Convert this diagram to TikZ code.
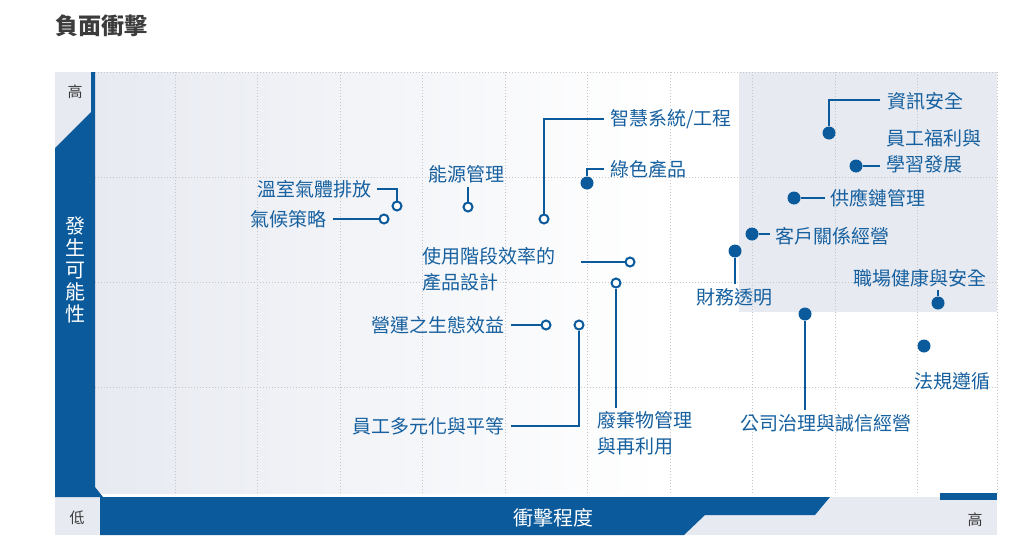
\documentclass[tikz,border=0pt]{standalone}
\usepackage{fontspec}
\newfontfamily\cjk{Noto Sans CJK TC}
\usetikzlibrary{positioning}
\definecolor{mblue}{HTML}{0B5A9C}
\definecolor{tblue}{HTML}{16609F}
\definecolor{pale}{HTML}{E7EAF1}
\definecolor{tgray}{HTML}{3C3C3C}
\tikzset{
  ring/.style={circle,draw=mblue,fill=white,line width=2pt,minimum size=9pt,inner sep=0pt},
  dot/.style={circle,fill=mblue,minimum size=13pt,inner sep=0pt},
  lbl/.style={inner sep=0pt,text=tblue,font=\cjk\fontsize{19}{26}\selectfont,align=left},
  lead/.style={draw=mblue,line width=1.4pt},
  gridl/.style={draw=gray!45,dotted,line width=1pt},
  axlbl/.style={inner sep=0pt,text=tgray,font=\cjk\fontsize{15}{18}\selectfont}
}
\begin{document}
\begin{tikzpicture}[x=1pt,y=-1pt]
\useasboundingbox (0,0) rectangle (1019,549);
\node[anchor=west,inner sep=0pt,text=tgray,font=\cjk\bfseries\fontsize{23}{26}\selectfont] (title) at (55,26) {負面衝擊};

% background of the grid
\shade[left color=pale,right color=white] (95,72) rectangle (660,493);
\fill[pale] (739,72) rectangle (997,312);
\foreach \gx in {175,257.5,...,920} \draw[gridl] (\gx,72) -- (\gx,493);
\draw[gridl] (997,72) -- (997,493);
\foreach \gy in {72,177,282,387} \draw[gridl] (95,\gy) -- (997,\gy);

% axes
\fill[pale] (55,72) rectangle (95,150);
\fill[pale] (55,497) rectangle (997,535);
\fill[mblue] (55,148) -- (91,112) -- (91,72) -- (95,72) -- (95,487) -- (103,497)
  -- (830,497) -- (815,515) -- (705,515) -- (684,535) -- (100,535) -- (100,497) -- (55,497) -- cycle;
\fill[mblue] (940,493) rectangle (997,500);
\node[axlbl] (yhi) at (75,92) {高};
\node[axlbl] (xlo) at (77,518) {低};
\node[axlbl] (xhi) at (975,520) {高};
\node[inner sep=0pt,text=white,font=\cjk\fontsize{20}{22}\selectfont,align=center] (yax) at (75,270) {發\\生\\可\\能\\性};
\node[inner sep=0pt,text=white,font=\cjk\fontsize{20}{22}\selectfont] (xax) at (553,518) {衝擊程度};

% topics
\node[ring] (ghg) at (397,206) {};
\node[lbl,anchor=east] (ghgL) at (372,189) {溫室氣體排放};
\draw[lead] (ghgL.east) ++(5,0) -| (ghg);
\node[ring] (clim) at (384,219) {};
\node[lbl,anchor=east] (climL) at (327,219) {氣候策略};
\draw[lead] (climL.east) ++(6,0) -- (clim);
\node[ring] (ener) at (468,207) {};
\node[lbl,anchor=south] (enerL) at (466,183) {能源管理};
\draw[lead] (ener) -- ++(0,-20);
\node[ring] (smart) at (544,219) {};
\node[lbl,anchor=west] (smartL) at (610,119) {智慧系統/工程};
\draw[lead] (smart) |- ([xshift=-6pt]smartL.west);
\node[dot] (green) at (587,183) {};
\node[lbl,anchor=west] (greenL) at (610,169) {綠色產品};
\draw[lead] (green) |- ([xshift=-6pt]greenL.west);
\node[ring] (eff) at (630,262) {};
\node[lbl,anchor=north west] (effL) at (422,247) {使用階段效率的\\產品設計};
\draw[lead] (581,262) -- (eff);
\node[ring] (waste) at (616,283) {};
\node[lbl,anchor=north west] (wasteL) at (597,411) {廢棄物管理\\與再利用};
\draw[lead] (waste) -- (616,408);
\node[ring] (eco) at (546,325) {};
\node[lbl,anchor=east] (ecoL) at (505,325) {營運之生態效益};
\draw[lead] (ecoL.east) ++(6,0) -- (eco);
\node[ring] (div) at (579,325) {};
\node[lbl,anchor=east] (divL) at (505,426) {員工多元化與平等};
\draw[lead] (div) |- ([xshift=6pt]divL.east);
\node[dot] (fin) at (735,251) {};
\node[lbl,anchor=north] (finL) at (734,288) {財務透明};
\draw[lead] (fin) -- (735,284);
\node[dot] (cust) at (752,234) {};
\node[lbl,anchor=west] (custL) at (775,236) {客戶關係經營};
\draw[lead] (cust) -- (770,234);
\node[dot] (supp) at (794,198) {};
\node[lbl,anchor=west] (suppL) at (830,198) {供應鏈管理};
\draw[lead] (supp) -- (825,198);
\node[dot] (info) at (829,133) {};
\node[lbl,anchor=west] (infoL) at (887,101) {資訊安全};
\draw[lead] (info) |- (880,100);
\node[dot] (welf) at (856,166) {};
\node[lbl,anchor=west] (welfL) at (886,151) {員工福利與\\學習發展};
\draw[lead] (welf) -- (880,166);
\node[dot] (health) at (938,303) {};
\node[lbl,anchor=south] (healthL) at (920,287) {職場健康與安全};
\draw[lead] (health) -- (938,290);
\node[dot] (law) at (924,346) {};
\node[lbl,anchor=north] (lawL) at (952,372) {法規遵循};
\node[dot] (gov) at (805,314) {};
\node[lbl,anchor=north] (govL) at (826,414) {公司治理與誠信經營};
\draw[lead] (gov) -- (805,410);
\end{tikzpicture}
\end{document}
